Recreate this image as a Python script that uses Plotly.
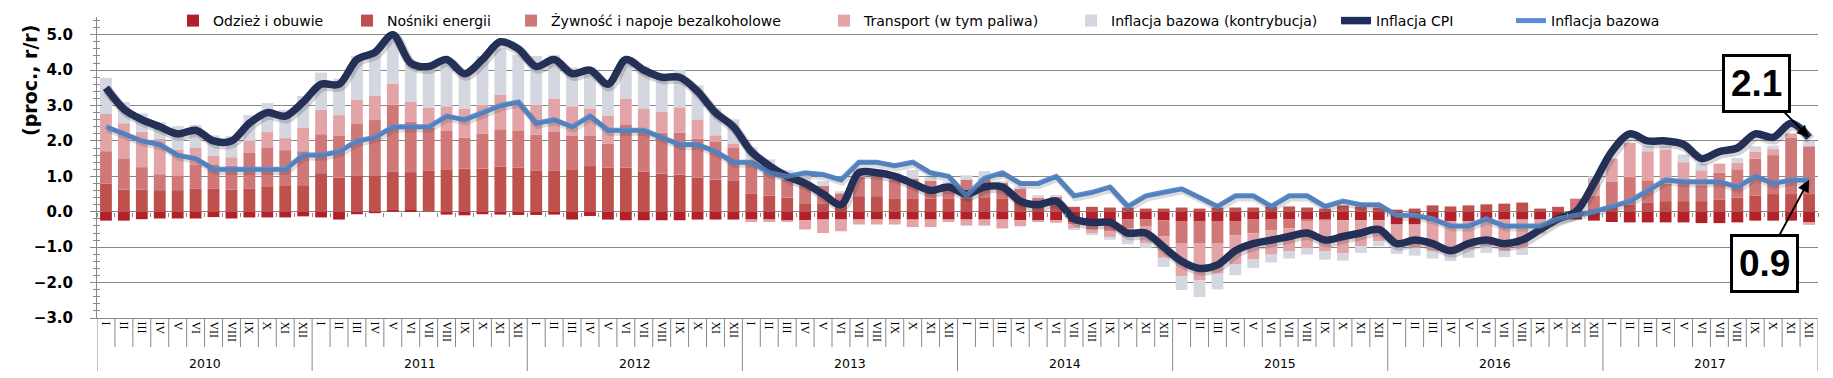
import plotly.graph_objects as go

months = ["I", "II", "III", "IV", "V", "VI", "VII", "VIII", "IX", "X", "XI", "XII"]
years = ["2010", "2011", "2012", "2013", "2014", "2015", "2016", "2017"]

odziez = [
    -0.25, -0.25, -0.21, -0.19, -0.19, -0.19, -0.15, -0.19, -0.16, -0.16, -0.16, -0.13,
    -0.16, -0.22, -0.07, -0.04, 0.07, 0.05, 0.00, -0.08, -0.10, -0.07, -0.08, -0.09,
    -0.09, -0.08, -0.22, -0.12, -0.22, -0.24, -0.24, -0.24, -0.24, -0.22, -0.22, -0.22,
    -0.22, -0.22, -0.24, -0.24, -0.22, -0.22, -0.22, -0.22, -0.22, -0.22, -0.22, -0.22,
    -0.22, -0.22, -0.22, -0.24, -0.24, -0.26, -0.30, -0.36, -0.36, -0.22, -0.22, -0.24,
    -0.26, -0.26, -0.26, -0.26, -0.22, -0.22, -0.22, -0.22, -0.22, -0.24, -0.24, -0.24,
    -0.36, -0.36, -0.26, -0.26, -0.26, -0.22, -0.22, -0.22, -0.22, -0.20, -0.22, -0.25,
    -0.29, -0.30, -0.30, -0.30, -0.30, -0.32, -0.32, -0.30, -0.25, -0.25, -0.25, -0.29]

nosniki = [
    0.80, 0.63, 0.63, 0.61, 0.61, 0.66, 0.66, 0.63, 0.66, 0.72, 0.75, 0.75,
    1.09, 0.97, 1.03, 1.03, 1.07, 1.07, 1.17, 1.20, 1.22, 1.22, 1.28, 1.25,
    1.17, 1.17, 1.18, 1.29, 1.25, 1.25, 1.14, 1.08, 1.05, 0.97, 0.91, 0.89,
    0.52, 0.46, 0.40, 0.24, 0.24, 0.24, 0.44, 0.44, 0.38, 0.38, 0.38, 0.38,
    0.38, 0.41, 0.38, 0.33, 0.20, 0.20, 0.14, 0.14, 0.12, 0.12, 0.09, 0.09,
    0.12, 0.09, 0.12, 0.12, 0.12, 0.15, 0.15, 0.12, 0.09, 0.18, 0.15, 0.12,
    0.06, 0.09, 0.18, 0.15, 0.18, 0.21, 0.23, 0.26, 0.09, 0.14, 0.05, 0.10,
    0.16, 0.20, 0.25, 0.30, 0.30, 0.30, 0.35, 0.40, 0.45, 0.50, 0.50, 0.50]

zywnosc = [
    0.91, 0.88, 0.63, 0.45, 0.42, 0.68, 0.66, 0.67, 1.00, 1.08, 0.99, 0.96,
    1.10, 1.17, 1.45, 1.56, 1.88, 1.42, 1.20, 1.08, 0.87, 0.99, 1.05, 1.05,
    1.01, 1.10, 0.96, 0.85, 0.68, 1.22, 1.09, 1.15, 1.19, 1.10, 1.08, 0.93,
    0.90, 0.64, 0.51, 0.49, 0.49, 0.28, 0.55, 0.57, 0.53, 0.56, 0.50, 0.42,
    0.53, 0.53, 0.44, 0.33, 0.20, 0.22, -0.06, -0.15, -0.20, -0.25, -0.20, -0.46,
    -0.64, -0.64, -0.64, -0.41, -0.39, -0.31, -0.25, -0.04, -0.02, 0.00, 0.00, 0.00,
    0.00, 0.00, 0.00, 0.00, 0.00, 0.00, 0.00, 0.00, 0.00, 0.00, 0.32, 0.35,
    0.68, 0.78, 0.64, 0.50, 0.55, 0.45, 0.75, 0.80, 1.05, 1.10, 1.60, 1.35]

transport = [
    1.05, 0.99, 1.00, 1.00, 0.73, 0.46, 0.26, 0.24, 0.34, 0.45, 0.34, 0.66,
    0.69, 0.59, 0.68, 0.68, 0.59, 0.56, 0.56, 0.70, 0.83, 0.81, 0.98, 0.72,
    0.84, 0.93, 0.84, 0.78, 0.79, 0.73, 0.69, 0.60, 0.71, 0.54, 0.17, 0.11,
    -0.07, -0.07, -0.05, -0.26, -0.38, -0.33, -0.14, -0.14, -0.14, -0.21, -0.21, -0.07,
    -0.17, -0.17, -0.25, -0.17, -0.05, -0.05, -0.11, -0.10, -0.15, -0.26, -0.46, -0.60,
    -0.92, -1.04, -0.85, -0.82, -0.74, -0.68, -0.64, -0.78, -0.87, -0.93, -0.73, -0.59,
    -0.60, -0.66, -0.85, -0.95, -0.80, -0.75, -0.89, -0.82, -0.35, -0.05, 0.00, 0.50,
    0.66, 0.97, 0.82, 0.96, 0.55, 0.42, 0.26, 0.18, 0.20, 0.17, 0.11, -0.08]

bazowa_kontr = [
    1.02, 0.60, 0.52, 0.47, 0.66, 0.65, 0.58, 0.60, 0.73, 0.82, 0.80, 0.90,
    1.05, 1.03, 1.24, 1.20, 1.35, 1.08, 1.16, 1.28, 1.01, 1.38, 1.30, 1.42,
    1.38, 1.22, 1.09, 1.15, 0.92, 1.06, 1.19, 1.00, 1.05, 0.96, 0.76, 0.68,
    0.40, 0.38, 0.26, 0.40, 0.14, 0.06, 0.25, 0.20, 0.20, 0.24, 0.10, 0.05,
    0.12, 0.21, 0.05, 0.05, 0.07, 0.05, -0.02, -0.05, -0.08, -0.19, -0.14, -0.26,
    -0.39, -0.47, -0.44, -0.30, -0.24, -0.22, -0.21, -0.17, -0.24, -0.21, -0.19, -0.14,
    -0.23, -0.22, -0.21, -0.18, -0.24, -0.19, -0.17, -0.18, -0.05, 0.00, 0.00, 0.05,
    0.00, 0.00, 0.16, 0.11, 0.22, 0.19, 0.00, 0.14, 0.15, 0.10, 0.00, 0.15]

cpi = [
    3.5, 2.9, 2.6, 2.4, 2.2, 2.3, 2.0, 2.0, 2.5, 2.8, 2.7, 3.1,
    3.6, 3.6, 4.3, 4.5, 5.0, 4.2, 4.1, 4.3, 3.9, 4.3, 4.8, 4.6,
    4.1, 4.3, 3.9, 4.0, 3.6, 4.3, 4.0, 3.8, 3.8, 3.4, 2.8, 2.4,
    1.7, 1.3, 1.0, 0.8, 0.5, 0.2, 1.1, 1.1, 1.0, 0.8, 0.6, 0.7,
    0.5, 0.7, 0.7, 0.3, 0.2, 0.3, -0.2, -0.3, -0.3, -0.6, -0.6, -1.0,
    -1.4, -1.6, -1.5, -1.1, -0.9, -0.8, -0.7, -0.6, -0.8, -0.7, -0.6, -0.5,
    -0.9, -0.8, -0.9, -1.1, -0.9, -0.8, -0.9, -0.8, -0.5, -0.2, 0.0, 0.8,
    1.7, 2.2, 2.0, 2.0, 1.9, 1.5, 1.7, 1.8, 2.2, 2.1, 2.5, 2.1]

bazowa = [
    2.4, 2.2, 2.0, 1.9, 1.6, 1.5, 1.2, 1.2, 1.2, 1.2, 1.2, 1.6,
    1.6, 1.7, 2.0, 2.1, 2.4, 2.4, 2.4, 2.7, 2.6, 2.8, 3.0, 3.1,
    2.5, 2.6, 2.4, 2.7, 2.3, 2.3, 2.3, 2.1, 1.9, 1.9, 1.7, 1.4,
    1.4, 1.1, 1.0, 1.1, 1.05, 0.9, 1.4, 1.4, 1.3, 1.4, 1.1, 1.0,
    0.45, 0.95, 1.1, 0.8, 0.8, 1.0, 0.45, 0.55, 0.7, 0.15, 0.45, 0.55,
    0.65, 0.4, 0.15, 0.45, 0.45, 0.15, 0.45, 0.45, 0.15, 0.3, 0.2, 0.2,
    -0.1, -0.1, -0.2, -0.4, -0.4, -0.2, -0.4, -0.4, -0.4, -0.2, -0.1, 0.0,
    0.15, 0.3, 0.6, 0.9, 0.85, 0.85, 0.85, 0.7, 1.0, 0.8, 0.9, 0.9]

# ---------------------------------------------------------------------------
W, H = 1833, 378
ML, MR, MT, MB = 97, 15, 17, 60
PW, PH = W - ML - MR, H - MT - MB
GRID = "#888888"
FONT = "DejaVu Sans"

n = len(cpi)
x = list(range(n))
ticktext = [months[i % 12] for i in x]


def px_to_paper_x(px):
    return (px - ML) / PW


def px_to_paper_y(py):
    return 1 - (py - MT) / PH


fig = go.Figure()

bars = [
    ("Odzież i obuwie", odziez, "#B2202A"),
    ("Nośniki energii", nosniki, "#C0504D"),
    ("Żywność i napoje bezalkoholowe", zywnosc, "#D07778"),
    ("Transport (w tym paliwa)", transport, "#E2A4A6"),
    ("Inflacja bazowa (kontrybucja)", bazowa_kontr, "#D4D7E0"),
]
legend_ids = ["legend", "legend2", "legend3", "legend4", "legend5", "legend6", "legend7"]
text_starts = [217, 391, 555, 868, 1115, 1380, 1555]

for k, (name, vals, col) in enumerate(bars):
    fig.add_trace(go.Bar(x=x, y=vals, name=name, marker=dict(color=col, line=dict(width=0)),
                         legend=legend_ids[k], hoverinfo="skip"))

# soft shadows under the lines (same data drawn on slightly shifted axes)
fig.add_trace(go.Scatter(x=x, y=cpi, mode="lines", xaxis="x3", yaxis="y3", showlegend=False,
                         line=dict(color="rgba(60,60,70,0.22)", width=10, shape="spline", smoothing=0.9),
                         hoverinfo="skip"))
fig.add_trace(go.Scatter(x=x, y=bazowa, mode="lines", xaxis="x3", yaxis="y3", showlegend=False,
                         line=dict(color="rgba(60,60,70,0.18)", width=7),
                         hoverinfo="skip"))

fig.add_trace(go.Scatter(x=x, y=cpi, mode="lines", name="Inflacja CPI", legend="legend6",
                         line=dict(color="#1F2D5B", width=7.5, shape="spline", smoothing=0.9)))
fig.add_trace(go.Scatter(x=x, y=bazowa, mode="lines", name="Inflacja bazowa", legend="legend7",
                         line=dict(color="#5A8FD6", width=5)))

yr = [-3, 5.5]
xr = [-0.5, n - 0.5]
fig.update_layout(
    width=W, height=H,
    margin=dict(l=ML, r=MR, t=MT, b=MB, autoexpand=False),
    paper_bgcolor="white", plot_bgcolor="white",
    barmode="relative", bargap=0.34,
    font=dict(family=FONT, color="black"),
    xaxis=dict(range=xr, tickvals=x, ticktext=ticktext, tickangle=90,
               tickfont=dict(family="Liberation Serif", size=12, color="black"),
               ticks="", showgrid=False, showline=True, linecolor=GRID, linewidth=1,
               zeroline=False, automargin=False),
    xaxis2=dict(range=xr, overlaying="x", anchor="free", position=3 / 8.5,
                tickvals=[i - 0.5 for i in range(n + 1)], ticks="outside", ticklen=4,
                tickcolor=GRID, showticklabels=False, showgrid=False, showline=False,
                zeroline=False),
    xaxis3=dict(range=[xr[0] - 0.08, xr[1] - 0.08], overlaying="x", visible=False),
    yaxis=dict(range=yr, tick0=0, dtick=1, tickformat=".1f", automargin=False,
               tickfont=dict(family=FONT, size=15, color="black", weight="bold"),
               ticklabelstandoff=14,
               showgrid=True, gridcolor=GRID, gridwidth=1,
               zeroline=True, zerolinecolor=GRID, zerolinewidth=1,
               showline=True, linecolor=GRID, linewidth=1,
               ticks="outside", ticklen=6, tickcolor=GRID,
               minor=dict(dtick=0.2, tick0=0, ticks="outside", ticklen=3, tickcolor=GRID, showgrid=False)),
    yaxis2=dict(range=yr, overlaying="y", anchor="x", side="left", tick0=0, dtick=1,
                showticklabels=False, showgrid=False, zeroline=False, showline=False,
                ticks="inside", ticklen=5, tickcolor=GRID,
                minor=dict(dtick=0.2, tick0=0, ticks="inside", ticklen=3, tickcolor=GRID, showgrid=False)),
    yaxis3=dict(range=[yr[0] + 0.06, yr[1] + 0.06], overlaying="y", anchor="x3", visible=False),
    showlegend=True,
)

# one small legend per entry, placed along the top
for k, lid in enumerate(legend_ids):
    fig.update_layout({lid: dict(
        orientation="h", x=px_to_paper_x(text_starts[k] - 44), xanchor="left",
        y=px_to_paper_y(21), yanchor="middle", bgcolor="rgba(0,0,0,0)",
        font=dict(family=FONT, size=14, color="black"), itemwidth=30,
        borderwidth=0, tracegroupgap=0)})
fig.add_trace(go.Scatter(x=[None], y=[None], xaxis="x2", showlegend=False))
fig.add_trace(go.Scatter(x=[None], y=[None], yaxis="y2", showlegend=False))

shapes = []
for i in range(n + 1):
    long = (i % 12 == 0)
    shapes.append(dict(type="line", xref="x", yref="paper", x0=i - 0.5, x1=i - 0.5,
                       y0=0, y1=-(53 if long else 29) / PH, line=dict(color=GRID, width=1)))
fig.update_layout(shapes=shapes)

ann = [dict(text="(proc., r/r)", textangle=-90, xref="paper", yref="paper",
            x=px_to_paper_x(30), y=px_to_paper_y(81), xanchor="center", yanchor="middle",
            showarrow=False, font=dict(family=FONT, size=19, color="black", weight="bold"))]
for k, yname in enumerate(years):
    ann.append(dict(text=yname, xref="x", yref="paper", x=12 * k + 5.5, y=px_to_paper_y(363),
                    xanchor="center", yanchor="middle",
                    showarrow=False, font=dict(family=FONT, size=12.5, color="black")))

x_last = n - 1
ann.append(dict(text=f"{cpi[-1]:.1f}", x=x_last, y=cpi[-1], xref="x", yref="y",
                ax=-53, ay=-54, showarrow=True, arrowhead=2, arrowsize=1.2, arrowwidth=2,
                arrowcolor="black", bgcolor="white", bordercolor="black", borderwidth=3,
                borderpad=6, font=dict(family="Liberation Sans", size=37, color="black", weight="bold")))
ann.append(dict(text=f"{bazowa[-1]:.1f}", x=x_last, y=bazowa[-1], xref="x", yref="y",
                ax=-45, ay=84, showarrow=True, arrowhead=2, arrowsize=1.2, arrowwidth=2,
                arrowcolor="black", bgcolor="white", bordercolor="black", borderwidth=3,
                borderpad=6, font=dict(family="Liberation Sans", size=37, color="black", weight="bold")))
fig.update_layout(annotations=ann)

fig.write_html("out.html", config={"displayModeBar": False},
               post_script="document.body.style.margin='0px';document.body.style.overflow='hidden';")
